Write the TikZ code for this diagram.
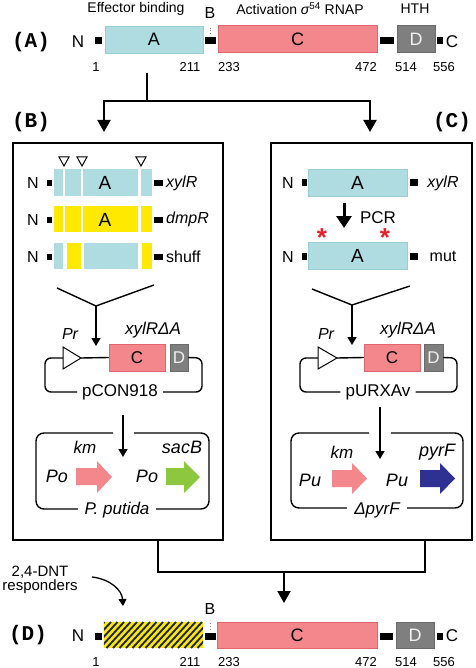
\documentclass[tikz,border=0pt]{standalone}
\usepackage{fontspec}
\setmainfont{Liberation Sans}
\newfontfamily\plabfont{Liberation Mono}
\usetikzlibrary{arrows.meta,calc}
\definecolor{cblue}{HTML}{AEDCE1}
\definecolor{cbluee}{HTML}{98CDD3}
\definecolor{csal}{HTML}{F4878B}
\definecolor{csale}{HTML}{E0666B}
\definecolor{cgray}{HTML}{7F7F7F}
\definecolor{cgraye}{HTML}{6A6A6A}
\definecolor{cyel}{HTML}{FFE900}
\definecolor{cgreen}{HTML}{8DC63F}
\definecolor{cnavy}{HTML}{2E3192}
\definecolor{cstripe}{HTML}{1E2650}
\definecolor{cstar}{HTML}{E8202A}
\begin{document}
\begin{tikzpicture}[x=1pt,y=-1pt,
  every node/.style={inner sep=0pt},
  fsz/.style={font=\fontsize{#1}{#1}\selectfont},
  itsz/.style={font=\fontsize{#1}{#1}\selectfont\itshape},
  plab/.style={font=\fontsize{21}{21}\selectfont\plabfont\bfseries},
  dA/.style={fill=cblue, draw=cbluee, line width=0.5pt, minimum height=27pt, fsz=18},
  dC/.style={fill=csal, draw=csale, line width=0.5pt, minimum height=27pt, fsz=18},
  dD/.style={fill=cgray, draw=cgraye, line width=0.5pt, minimum height=27pt, fsz=18, text=white!88!gray},
  sq/.style={fill=black, minimum height=7pt},
  seg/.style={minimum height=26.5pt},
  conn/.style={line width=2pt},
  bigtip/.style={-{Triangle[width=13pt,length=12pt]}},
  tline/.style={line width=1.4pt},
  smalltip/.style={-{Triangle[width=9pt,length=8pt]}},
  panel/.style={draw, line width=1.5pt, minimum height=397pt},
  starmark/.style={font=\fontsize{26}{26}\selectfont\bfseries, text=cstar}
]
\useasboundingbox (0,0) rectangle (475,668);

% ---------------- (A) ----------------
\node[plab] (labA) at (31,42) {(A)};
\node[fsz=14] (hEff) at (136,9) {Effector binding};
\node[fsz=16] (hB) at (210,13) {B};
\node[fsz=14] (hAct) at (300,9) {Activation {\itshape σ}\textsuperscript{54} RNAP};
\node[fsz=14] (hHTH) at (415,9) {HTH};

\node[fsz=17] (nA) at (78,42) {N};
\node[sq, minimum width=7pt] (sA1) at (98.5,40.5) {};
\node[dA, minimum width=98pt] (domAA) at (154,39.5) {A};
\node[sq, minimum width=11pt] (sA2) at (210.5,40.5) {};
\node[dC, minimum width=159pt] (domAC) at (297.5,39) {C};
\node[sq, minimum width=14pt] (sA3) at (387,40.5) {};
\node[dD, minimum width=38pt] (domAD) at (416,39) {D};
\node[sq, minimum width=6pt] (sA4) at (440,40.5) {};
\node[fsz=17] (cA) at (452,42) {C};
\draw[dotted, line width=0.7pt, gray] ($(sA2.north)+(0,-3)$) -- ($(sA2.north)+(0,-10)$);

\node[fsz=13] (nA1) at (96,67) {1};
\node[fsz=13] (nA2) at (190,67) {211};
\node[fsz=13] (nA3) at (229,67) {233};
\node[fsz=13] (nA4) at (366,67) {472};
\node[fsz=13] (nA5) at (406,67) {514};
\node[fsz=13] (nA6) at (444,67) {556};

% split connector
\coordinate (jTop) at (147,73);
\coordinate (jSplit) at (147,101);
\coordinate (tipB) at (104,132);
\coordinate (tipC) at (370,132);
\draw[conn] (jTop) -- (jSplit);
\draw[conn, bigtip] (jSplit) -| (tipB);
\draw[conn, bigtip] (jSplit) -| (tipC);

\node[plab] (labB) at (31,122) {(B)};
\node[plab] (labC) at (452,122) {(C)};

\node[panel, minimum width=210pt] (panB) at (118,341.5) {};
\node[panel, minimum width=201pt] (panC) at (371.5,341.5) {};

% ---------------- panel B ----------------
\foreach \tx in {64,82,141}
  \draw[line width=1pt, fill=white] (\tx-5,157) -- (\tx+5,157) -- (\tx,166) -- cycle;

% row xylR
\node[fsz=16] (bN1) at (33,183) {N};
\node[fill=black, minimum width=5pt, minimum height=6pt] (bL1) at (49.5,183) {};
\node[seg, fill=cblue, minimum width=9pt] (b1a) at (58.5,182.5) {};
\node[seg, fill=cblue, minimum width=16pt] (b1b) at (73,182.5) {};
\node[seg, fill=cblue, minimum width=55pt] (b1c) at (110.5,182.5) {};
\node[seg, fill=cblue, minimum width=11pt] (b1d) at (146.5,182.5) {};
\node[fsz=19] (b1A) at (105,183) {A};
\node[fill=black, minimum width=9pt, minimum height=6pt] (bR1) at (158.5,183) {};
\node[itsz=16, anchor=west] (bT1) at (166,183) {xylR};
% row dmpR
\node[fsz=16] (bN2) at (33,219.5) {N};
\node[fill=black, minimum width=5pt, minimum height=6pt] (bL2) at (49.5,219.5) {};
\node[seg, fill=cyel, minimum width=9pt] (b2a) at (58.5,219) {};
\node[seg, fill=cyel, minimum width=16pt] (b2b) at (73,219) {};
\node[seg, fill=cyel, minimum width=55pt] (b2c) at (110.5,219) {};
\node[seg, fill=cyel, minimum width=11pt] (b2d) at (146.5,219) {};
\node[fsz=19] (b2A) at (105,219.5) {A};
\node[fill=black, minimum width=9pt, minimum height=6pt] (bR2) at (158.5,219.5) {};
\node[itsz=16, anchor=west] (bT2) at (166,219.5) {dmpR};
% row shuff
\node[fsz=16] (bN3) at (33,256.5) {N};
\node[fill=black, minimum width=5pt, minimum height=6pt] (bL3) at (49.5,256.5) {};
\node[seg, fill=cblue, minimum width=9pt] (b3a) at (58.5,256) {};
\node[seg, fill=cyel, minimum width=14pt] (b3b) at (74,256) {};
\node[seg, fill=cblue, minimum width=54pt] (b3c) at (111,256) {};
\node[seg, fill=cyel, minimum width=10pt] (b3d) at (147,256) {};
\node[fill=black, minimum width=9pt, minimum height=6pt] (bR3) at (158.5,256.5) {};
\node[fsz=16, anchor=west] (bT3) at (166,256.5) {shuff};

% funnel B
\coordinate (fBL) at (57,288);
\coordinate (fBR) at (154,285);
\coordinate (fBJ) at (96,306);
\coordinate (fBT) at (96,346);
\draw[tline] (fBL) -- (fBJ) -- (fBR);
\draw[tline, smalltip] (fBJ) -- (fBT);

% plasmid B
\node[itsz=16] (prLB) at (70,334) {Pr};
\coordinate (prB0) at (63,358);
\coordinate (prB1) at (81,358);
\node[dC, minimum width=56pt, fsz=17] (cB) at (137,357.5) {C};
\node[dD, minimum width=18pt, fsz=17] (dB) at (179,357.5) {D};
\node[itsz=17] (xB) at (153,330) {xylRΔA};
\node[fsz=17, inner xsep=5pt] (pconB) at (120,392) {pCON918};
\draw[tline] (prB1) -- (cB.west);
\draw[tline, rounded corners=6pt] (prB0) -- (45,358) -- (45,392) -- (pconB.west);
\draw[tline, rounded corners=6pt] (dB.east) -- (202,358) -- (202,392) -- (pconB.east);
\draw[line width=1pt, fill=white] (63,347) -- (prB1) -- (63,369) -- cycle;

% strain B
\coordinate (aB1) at (123,415);
\coordinate (aB2) at (123,457);
\draw[tline, smalltip] (aB1) -- (aB2);
\draw[tline, rounded corners=8pt] (113,433) -- (36,433) -- (36,509) -- (209,509) -- (209,433) -- (134,433);
\node[itsz=17, fill=white, inner xsep=7pt, inner ysep=1pt] (strB) at (117,510) {P. putida};
\node[itsz=17] (kmB) at (85,447) {km};
\node[itsz=18] (sacB) at (182,447) {sacB};
\node[itsz=18] (poB1) at (57,476) {Po};
\node[itsz=18] (poB2) at (147,476) {Po};
\fill[csal] (76,468) -- (97,468) -- (97,461) -- (112,477) -- (97,493) -- (97,485) -- (76,485) -- cycle;
\fill[cgreen] (166,468) -- (184,468) -- (184,461) -- (200,477) -- (184,493) -- (184,485) -- (166,485) -- cycle;

% ---------------- panel C ----------------
\node[fsz=16] (cN1) at (288,183) {N};
\node[fill=black, minimum width=5pt, minimum height=7pt] (cL1) at (304,183) {};
\node[dA, fsz=19] (c1A) at (357.5,182.5) [minimum width=99pt] {A};
\node[fill=black, minimum width=8pt, minimum height=7pt] (cR1) at (414,183) {};
\node[itsz=16] (cT1) at (443,183) {xylR};

\coordinate (pcr1) at (344,203);
\coordinate (pcr2) at (344,228);
\draw[line width=3pt, -{Triangle[width=15pt,length=12pt]}] (pcr1) -- (pcr2);
\node[fsz=17] (pcrT) at (378,218) {PCR};
\node[starmark] (st1) at (322,238) {*};
\node[starmark] (st2) at (385,238) {*};

\node[fsz=16] (cN2) at (288,256.5) {N};
\node[fill=black, minimum width=5pt, minimum height=7pt] (cL2) at (304,256.5) {};
\node[dA, fsz=19] (c2A) at (357.5,256) [minimum width=99pt] {A};
\node[fill=black, minimum width=8pt, minimum height=7pt] (cR2) at (414,256.5) {};
\node[fsz=16] (cT2) at (443,256.5) {mut};

% funnel C
\coordinate (fCL) at (312,289);
\coordinate (fCR) at (410,286);
\coordinate (fCJ) at (352,305);
\coordinate (fCT) at (352,345);
\draw[tline] (fCL) -- (fCJ) -- (fCR);
\draw[tline, smalltip] (fCJ) -- (fCT);

% plasmid C
\node[itsz=16] (prLC) at (326,334) {Pr};
\coordinate (prC0) at (318,358);
\coordinate (prC1) at (337,358);
\node[dC, minimum width=56pt, fsz=17] (cC) at (392,357.5) {C};
\node[dD, minimum width=19pt, fsz=17] (dC) at (433.5,357.5) {D};
\node[itsz=17] (xC) at (408,330) {xylRΔA};
\node[fsz=17, inner xsep=5pt] (purC) at (378,392) {pURXAv};
\draw[tline] (prC1) -- (cC.west);
\draw[tline, rounded corners=6pt] (prC0) -- (300,358) -- (300,392) -- (purC.west);
\draw[tline, rounded corners=6pt] (dC.east) -- (457,358) -- (457,392) -- (purC.east);
\draw[line width=1pt, fill=white] (318,347) -- (prC1) -- (318,369) -- cycle;

% strain C
\coordinate (aC1) at (380,407);
\coordinate (aC2) at (380,459);
\draw[tline, smalltip] (aC1) -- (aC2);
\draw[tline, rounded corners=8pt] (369,433) -- (291,433) -- (291,508) -- (463,508) -- (463,433) -- (391,433);
\node[itsz=17, fill=white, inner xsep=7pt, inner ysep=1pt] (strC) at (377,510) {ΔpyrF};
\node[itsz=17] (kmC) at (342,452) {km};
\node[itsz=18] (pyrF) at (437,452) {pyrF};
\node[itsz=18] (puC1) at (310,480) {Pu};
\node[itsz=18] (puC2) at (397,480) {Pu};
\fill[csal] (332,470) -- (352,470) -- (352,463) -- (367,478.5) -- (352,494) -- (352,487) -- (332,487) -- cycle;
\fill[cnavy] (420,470) -- (440,470) -- (440,463) -- (455,478.5) -- (440,494) -- (440,487) -- (420,487) -- cycle;

% ---------------- merge ----------------
\coordinate (bB) at (158,540);
\coordinate (bC) at (425,540);
\coordinate (jBL) at (158,572);
\coordinate (jBR) at (425,572);
\coordinate (jBot) at (284,572);
\coordinate (tipD) at (284,603);
\draw[conn] (bB) -- (jBL) -- (jBR) -- (bC);
\draw[conn, bigtip] (jBot) -- (tipD);

% ---------------- (D) ----------------
\node[fsz=15, align=center] (dnt) at (40,580) {2,4-DNT\\[-1pt]responders};
\coordinate (crv1) at (92,577);
\coordinate (crv2) at (123,606);
\draw[line width=1.3pt, -{Triangle[width=8pt,length=7pt]}] (crv1) .. controls (110,579) and (122,590) .. (crv2);

\node[plab] (labD) at (28,635) {(D)};
\node[fsz=17] (nD) at (78,636) {N};
\node[sq, minimum width=7pt] (sD1) at (98.5,636) {};
\node[fill=cyel, minimum width=99pt, minimum height=26pt] (domDA) at (153.5,635) {};
\begin{scope}
  \clip (domDA.south west) rectangle (domDA.north east);
  \foreach \sx in {74,80.5,...,206}
    \draw[cstripe, line width=1.9pt] (\sx,648) -- (\sx+24,622);
\end{scope}
\node[fsz=16] (hBD) at (210,609) {B};
\node[sq, minimum width=11pt] (sD2) at (210.5,636) {};
\draw[dotted, line width=0.7pt, gray] ($(sD2.north)+(0,-3)$) -- ($(sD2.north)+(0,-11)$);
\node[dC, minimum width=160pt, minimum height=26pt] (domDC) at (297,635) {C};
\node[sq, minimum width=13pt] (sD3) at (386.5,636) {};
\node[dD, minimum width=38pt, minimum height=26pt] (domDD) at (415,635) {D};
\node[sq, minimum width=6pt] (sD4) at (440,636) {};
\node[fsz=17] (cD) at (452,636) {C};

\node[fsz=13] (nD1) at (96,662) {1};
\node[fsz=13] (nD2) at (190,662) {211};
\node[fsz=13] (nD3) at (229,662) {233};
\node[fsz=13] (nD4) at (366,662) {472};
\node[fsz=13] (nD5) at (406,662) {514};
\node[fsz=13] (nD6) at (444,662) {556};
\end{tikzpicture}
\end{document}
